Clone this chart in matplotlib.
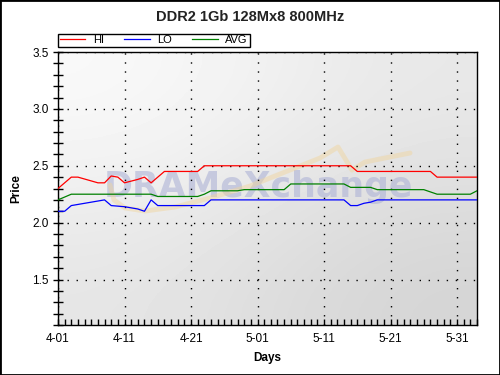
import numpy as np
import matplotlib.pyplot as plt
from matplotlib.patches import Rectangle

plt.rcParams['font.family'] = ['Liberation Sans', 'DejaVu Sans']

## Price data (day 0 = 4-01)
hi_days = [0, 2, 3, 6, 7, 8, 9, 10, 12, 13, 14, 16, 21, 22, 44, 45, 56, 57, 63]
hi = [2.30, 2.40, 2.40, 2.35, 2.35, 2.41, 2.40, 2.35, 2.38, 2.40, 2.35, 2.45,
      2.45, 2.50, 2.50, 2.45, 2.45, 2.40, 2.40]

lo_days = [0, 1, 2, 3, 5, 6, 7, 8, 10, 11, 12, 13, 14, 15, 22, 23, 43, 44, 45,
           46, 47, 48, 63]
lo = [2.10, 2.10, 2.15, 2.16, 2.18, 2.19, 2.20, 2.15, 2.14, 2.13, 2.12, 2.10,
      2.20, 2.15, 2.15, 2.20, 2.20, 2.15, 2.15, 2.17, 2.18, 2.20, 2.20]

avg_days = [0, 2, 14, 15, 21, 22, 23, 27, 28, 34, 35, 43, 44, 45, 47, 48, 55,
            56, 57, 62, 63]
avg = [2.20, 2.25, 2.25, 2.23, 2.23, 2.25, 2.28, 2.28, 2.29, 2.29, 2.34, 2.34,
       2.31, 2.31, 2.31, 2.29, 2.29, 2.27, 2.25, 2.25, 2.28]

tick_days = [0, 10, 20, 30, 40, 50, 60]
tick_labels = ['4-01', '4-11', '4-21', '5-01', '5-11', '5-21', '5-31']

fig = plt.figure(figsize=(5, 3.75), dpi=100)
fig.patch.set_facecolor('white')
fig.patches.append(Rectangle((0, 0), 1, 1, transform=fig.transFigure,
                             fill=False, edgecolor='black', linewidth=2))

ax = fig.add_axes([0.116, 0.1333, 0.838, 0.728])

# gradient background
grad = np.array([[0.90, 0.83], [0.98, 0.91]])
ax.imshow(grad, cmap='gray', vmin=0, vmax=1, extent=[0, 1, 0, 1],
          transform=ax.transAxes, aspect='auto', interpolation='bicubic',
          origin='lower', zorder=0)

# watermark (logo text + swoosh, in axes fractions)
ax.text(0.479, 0.469, 'DRAMeXchange', transform=ax.transAxes,
        family='DejaVu Sans', fontweight='bold', fontsize=25,
        color='#aeb3d6', alpha=0.6, ha='center', va='baseline', zorder=1)
sw_x = np.array([110, 114, 125, 145, 175, 210, 250, 290, 320, 338, 352, 365, 410])
sw_y = np.array([185, 200, 208, 211, 207, 198, 186, 170, 158, 147, 170, 162, 153])
ax.plot((sw_x - 58) / 419, (325 - sw_y) / 273, transform=ax.transAxes,
        color='#f1d49a', alpha=0.45, lw=3.5, solid_joinstyle='round',
        solid_capstyle='round', zorder=1)

ax.plot(hi_days, hi, color='#ff0000', lw=0.9, label='HI', zorder=3)
ax.plot(lo_days, lo, color='#0000ff', lw=0.9, label='LO', zorder=3)
ax.plot(avg_days, avg, color='#008000', lw=0.9, label='AVG', zorder=3)

ax.set_xlim(0, 63)
ax.set_ylim(1.1, 3.5)
ax.set_xticks(tick_days)
ax.set_xticklabels(tick_labels)
ax.set_xticks(np.arange(0, 64, 1), minor=True)
ax.set_yticks([1.5, 2.0, 2.5, 3.0, 3.5])
ax.set_yticks(np.arange(1.1, 3.51, 0.1), minor=True)
ax.tick_params(axis='x', which='both', direction='in', length=4, width=1,
               labelsize=8.5, pad=6)
ax.tick_params(axis='y', which='both', direction='inout', length=7, width=1,
               labelsize=8.5, pad=3)
ax.grid(True, which='major', color='black', linestyle=(0, (1, 5.5)), lw=1)
for s in ax.spines.values():
    s.set_linewidth(1)
    s.set_color('black')

ax.set_xlabel('Days', fontsize=8.5, fontweight='bold', labelpad=5)
ax.set_ylabel('Price', fontsize=8.5, fontweight='bold', labelpad=7)
fig.text(0.5, 1 - 17 / 375, 'DDR2 1Gb 128Mx8 800MHz', ha='center', va='center',
         fontsize=10.5, fontweight='bold', color='#222222')

leg = fig.legend(loc='lower left', bbox_to_anchor=(0.116, 1 - 47 / 375), ncol=3,
                 fontsize=8, frameon=True, fancybox=False, framealpha=1,
                 edgecolor='black', handlelength=2.3, handletextpad=0.7,
                 columnspacing=1.8, borderpad=0.15, borderaxespad=0)
leg.get_frame().set_linewidth(1)

plt.savefig('out.png', dpi=100)
